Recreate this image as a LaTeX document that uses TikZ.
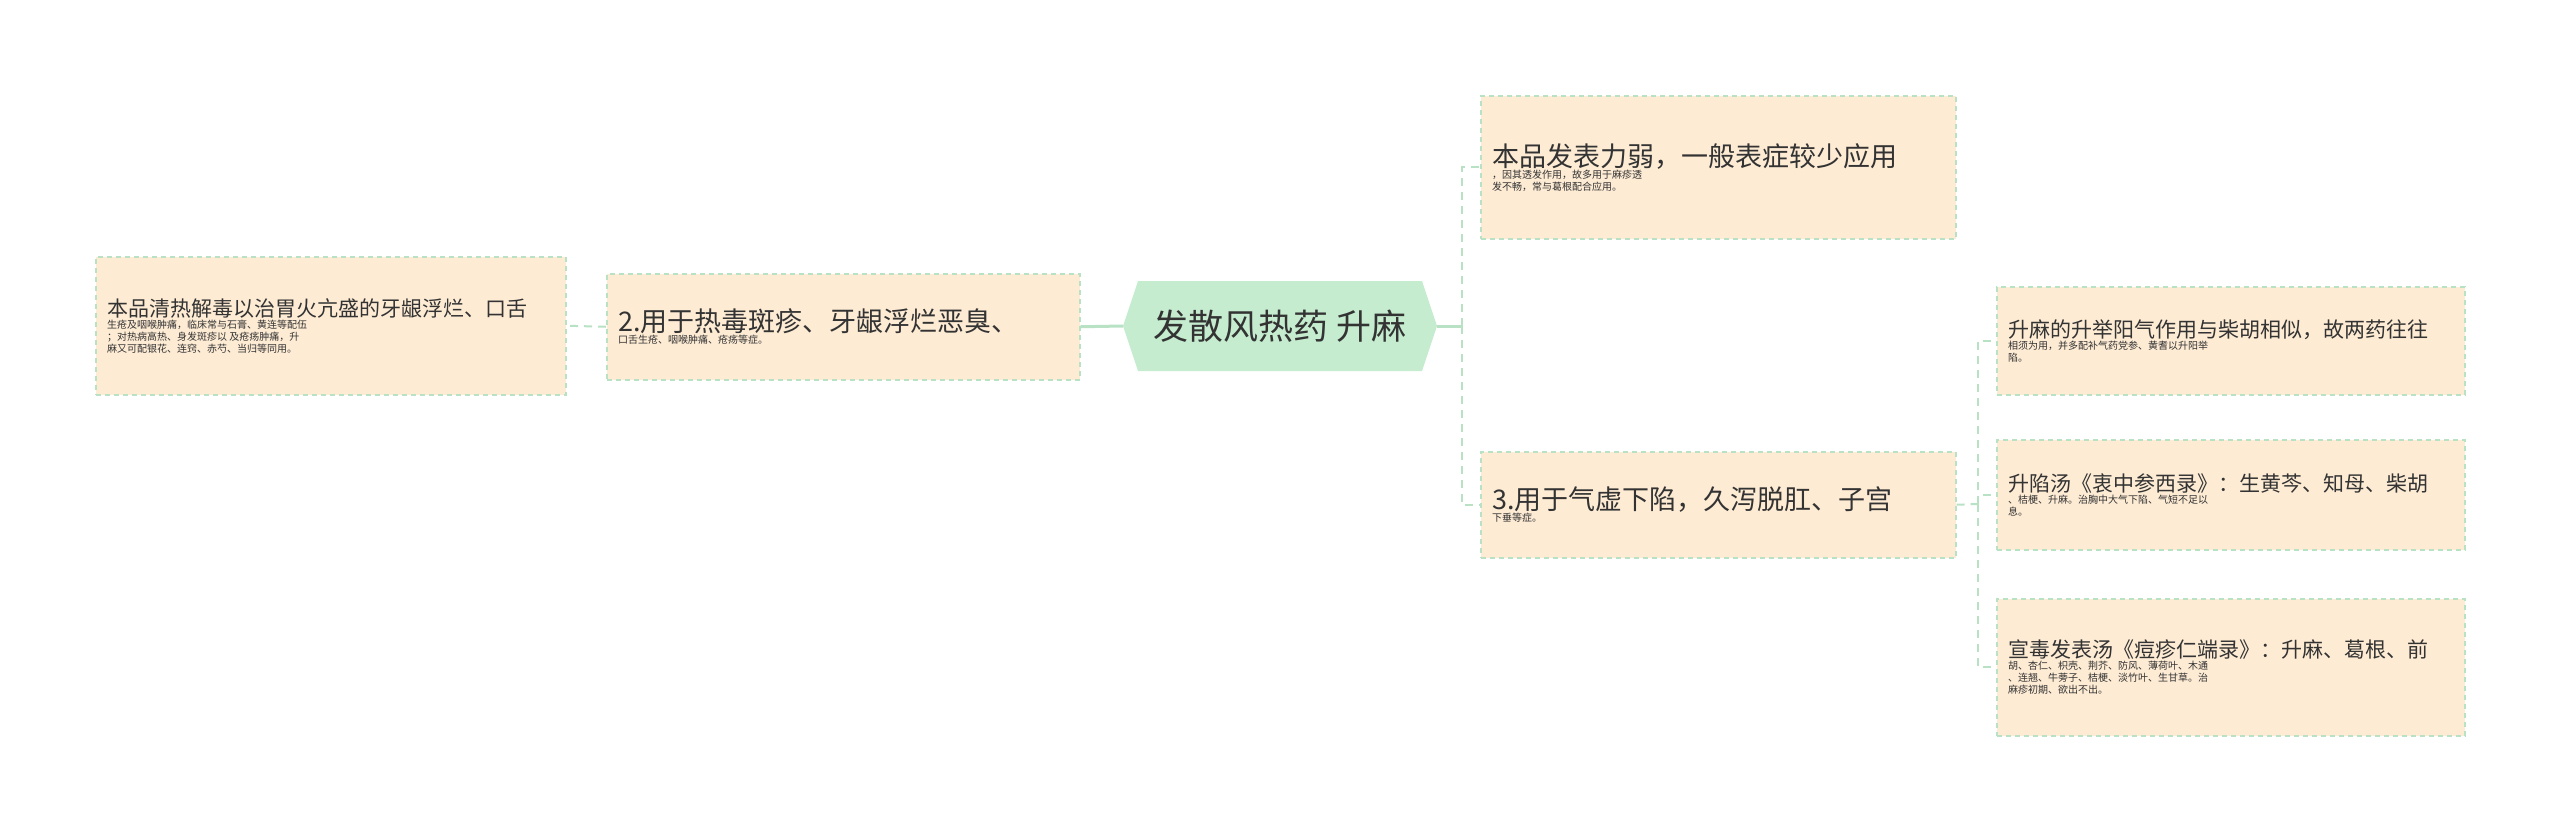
\documentclass[tikz,border=0pt]{standalone}
\usepackage{fontspec}
\setmainfont{Noto Sans CJK SC}
\usetikzlibrary{shapes.misc}
\definecolor{boxfill}{HTML}{FDEBD4}
\definecolor{boxline}{HTML}{B9E2C4}
\definecolor{rootfill}{HTML}{C5ECCF}
\definecolor{txt}{HTML}{333333}
\tikzset{
  x=1pt,y=-1pt,
  bx/.style={draw=boxline,dashed,line width=1.5pt,dash pattern=on 5pt off 4pt,fill=boxfill,text=txt,align=left,anchor=north west,inner sep=0pt},
  lnk/.style={draw=boxline,line width=2pt,dash pattern=on 8pt off 6pt},
}
\begin{document}
\begin{tikzpicture}
\useasboundingbox (0,0) rectangle (2560,831);
% boxes drawn as rectangles with text nodes
\newcommand{\mybox}[6]{%
  \node[bx,minimum width=#3-#1,minimum height=#4-#2] (#5) at (#1,#2) {};
  \node[anchor=west,align=left,text=txt,inner sep=0pt] at ([xshift=12pt]#5.west) {#6};}
\mybox{95}{256}{565}{394}{fl}{\fontsize{21}{30}\selectfont 本品清热解毒以治胃火亢盛的牙龈浮烂、口舌\\生疮及咽喉肿痛，临床常与石膏、黄连等配伍\\；对热病高热、身发斑疹以 及疮疡肿痛，升\\麻又可配银花、连窍、赤芍、当归等同用。}
\mybox{606}{273}{1079}{379}{b2}{\fontsize{27}{42}\selectfont 2.用于热毒斑疹、牙龈浮烂恶臭、\\口舌生疮、咽喉肿痛、疮疡等症。}
\mybox{1480}{95}{1955}{238}{b1}{\fontsize{27}{42}\selectfont 本品发表力弱，一般表症较少应用\\，因其透发作用，故多用于麻疹透\\发不畅，常与葛根配合应用。}
\mybox{1480}{451}{1955}{557}{b3}{\fontsize{27}{42}\selectfont 3.用于气虚下陷，久泻脱肛、子宫\\下垂等症。}
\mybox{1996}{286}{2464}{394}{s1}{\fontsize{21}{31}\selectfont 升麻的升举阳气作用与柴胡相似，故两药往往\\相须为用，并多配补气药党参、黄耆以升阳举\\陷。}
\mybox{1996}{439}{2464}{549}{s2}{\fontsize{21}{31}\selectfont 升陷汤《衷中参西录》：生黄芩、知母、柴胡\\、桔梗、升麻。治胸中大气下陷、气短不足以\\息。}
\mybox{1996}{598}{2464}{735}{s3}{\fontsize{21}{31}\selectfont 宣毒发表汤《痘疹仁端录》：升麻、葛根、前\\胡、杏仁、枳壳、荆芥、防风、薄荷叶、木通\\、连翘、牛蒡子、桔梗、淡竹叶、生甘草。治\\麻疹初期、欲出不出。}
% root hexagon
\fill[rootfill] (1123,326) -- (1138,281) -- (1422,281) -- (1437,326) -- (1422,371) -- (1138,371) -- cycle;
\node[text=txt,font=\fontsize{35}{40}\selectfont,inner sep=0pt] (root) at (1280,326) {发散风热药 升麻};
\coordinate (rl) at (1123,326);
\coordinate (rr) at (1437,326);
% connectors
\draw[draw=boxline,line width=3pt] (rl) -- (b2.east);
\draw[lnk] (b2.west) -- (fl.east);
\draw[draw=boxline,line width=3pt] (rr) -- (1462,326);
\draw[lnk] (1462,326) |- (b1.west);
\draw[lnk] (1462,326) |- (b3.west);
\draw[lnk] (b3.east) -- (1978,504);
\draw[lnk] (1978,504) |- (s1.west);
\draw[lnk] (1978,504) |- (s2.west);
\draw[lnk] (1978,504) |- (s3.west);
\end{tikzpicture}
\end{document}
